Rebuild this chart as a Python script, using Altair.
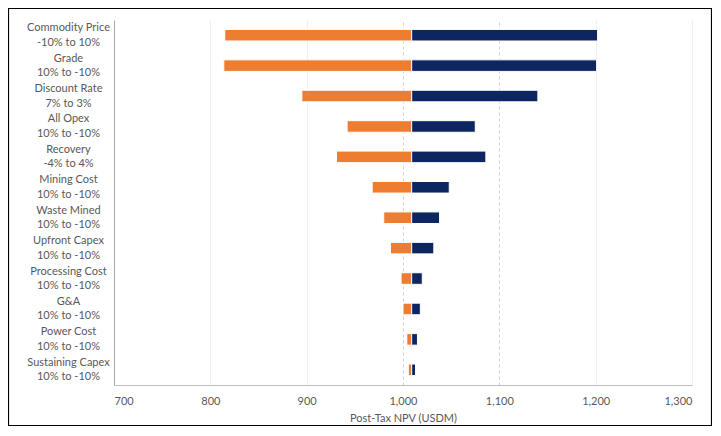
import altair as alt
import pandas as pd

categories = ["Commodity Price", "Grade", "Discount Rate", "All Opex", "Recovery",
              "Mining Cost", "Waste Mined", "Upfront Capex", "Processing Cost",
              "G&A", "Power Cost", "Sustaining Capex"]
ranges = ["-10% to 10%", "10% to -10%", "7% to 3%", "10% to -10%", "-4% to 4%",
          "10% to -10%", "10% to -10%", "10% to -10%", "10% to -10%",
          "10% to -10%", "10% to -10%", "10% to -10%"]
low_npv = [815, 814, 895, 942, 931, 968, 980, 987, 998, 1000, 1004, 1005.5]
high_npv = [1202, 1201, 1140, 1075, 1086, 1048, 1038, 1032, 1020, 1018, 1015, 1013]
base_npv = 1009
x_ticks = [700, 800, 900, 1000, 1100, 1200, 1300]

rows = []
order = []
for c, r, lo, hi in zip(categories, ranges, low_npv, high_npv):
    label = f"{c}|{r}"
    order.append(label)
    rows.append({"label": label, "side": "low", "start": lo, "end": base_npv})
    rows.append({"label": label, "side": "high", "start": base_npv, "end": hi})
df = pd.DataFrame(rows)

FONT = "Lato"
TXT = "#595959"

bars = alt.Chart(df).mark_bar(stroke="white", strokeWidth=1).encode(
    y=alt.Y("label:N", sort=order,
            scale=alt.Scale(paddingInner=0.62, paddingOuter=0.31),
            axis=alt.Axis(title=None, labelExpr="split(datum.value, '|')",
                          labelAlign="center", labelPadding=46, labelOffset=-7,
                          ticks=False, tickSize=0,
                          domainColor="#a6a6a6", labelColor=TXT, labelFont=FONT,
                          labelFontSize=11, labelLineHeight=14.5, grid=False)),
    x=alt.X("start:Q", scale=alt.Scale(domain=[700, 1300], nice=False, zero=False),
            axis=alt.Axis(values=x_ticks, format=",.0f", title="Post-Tax NPV (USDM)",
                          titleFont=FONT, titleFontSize=11, titleFontWeight="normal",
                          titleColor=TXT, titlePadding=6,
                          labelFont=FONT, labelFontSize=11, labelColor=TXT,
                          labelPadding=10, ticks=False, tickSize=0,
                          domainColor="#bfbfbf",
                          gridColor={"condition": {"test": "datum.value == 1000 || datum.value == 1100",
                                                   "value": "#d0d0d0"}, "value": "#f0f0f0"},
                          gridDash={"condition": {"test": "datum.value == 1000 || datum.value == 1100",
                                                  "value": [3, 3]}, "value": []})),
    x2="end:Q",
    color=alt.Color("side:N", scale=alt.Scale(domain=["low", "high"],
                                               range=["#ED7D31", "#0E2660"]), legend=None),
)

frame = alt.Chart(pd.DataFrame({"f": [0]})).mark_rect(
    fill="white", fillOpacity=0, stroke="#000000", strokeWidth=1.2
).encode(x=alt.value(-105.5), x2=alt.value(597.5), y=alt.value(-11.5), y2=alt.value(405.5))

chart = alt.layer(frame, bars).properties(
    width=578, height=365,
    autosize=alt.AutoSizeParams(type="none"),
    padding={"left": 106, "top": 12, "right": 20, "bottom": 41},
).configure_view(stroke=None)

chart.save("out.html", embed_options={"renderer": "svg", "actions": False})
